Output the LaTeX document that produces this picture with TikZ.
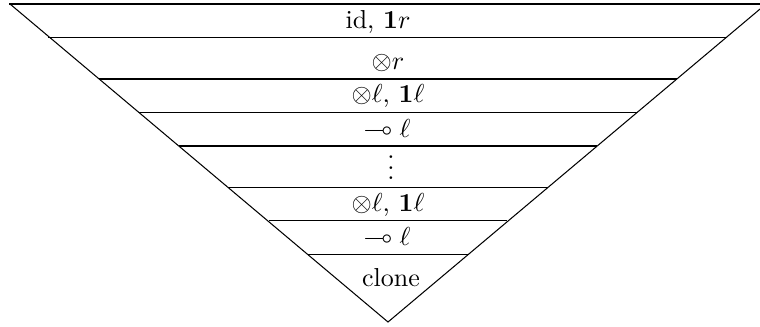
\documentclass[tikz,border=0pt]{standalone}
\usepackage{amssymb}
\begin{document}
\begin{tikzpicture}[x=0.385pt,y=-0.385pt,
  rule/.style={draw=black,line width=0.4pt},
  lbl/.style={inner sep=0pt,anchor=center}]
\useasboundingbox (0,0) rectangle (760,326);
% triangle
\coordinate (tl) at (10,4);
\coordinate (tr) at (766,4);
\coordinate (apex) at (388,322);
\draw[rule] (tl) -- (apex) -- (tr);
\draw[rule] (9,4) -- (tr);
% horizontal levels
\draw[rule] (48,37.7) -- (726.7,37.7);
\draw[rule] (99,79) -- (677,79);
\draw[rule] (139,112.7) -- (637,112.7);
\draw[rule] (179,146) -- (597,146);
\draw[rule] (228,187.7) -- (548,187.7);
\draw[rule] (269,220.7) -- (507,220.7);
\draw[rule] (308,254.3) -- (468,254.3);
% labels
\node[lbl] (n1) at (378,22) {id, $\mathbf{1}r$};
\node[lbl] (n2) at (388,63) {$\otimes r$};
\node[lbl] (n3) at (388,96) {$\otimes\ell$, $\mathbf{1}\ell$};
\node[lbl] (n4) at (387,128) {$\multimap\ell$};
\node[lbl] (n5) at (391,160) {$\vdots$};
\node[lbl] (n6) at (388,205) {$\otimes\ell$, $\mathbf{1}\ell$};
\node[lbl] (n7) at (387,236) {$\multimap\ell$};
\node[lbl] (n8) at (391,278) {clone};
\end{tikzpicture}
\end{document}
